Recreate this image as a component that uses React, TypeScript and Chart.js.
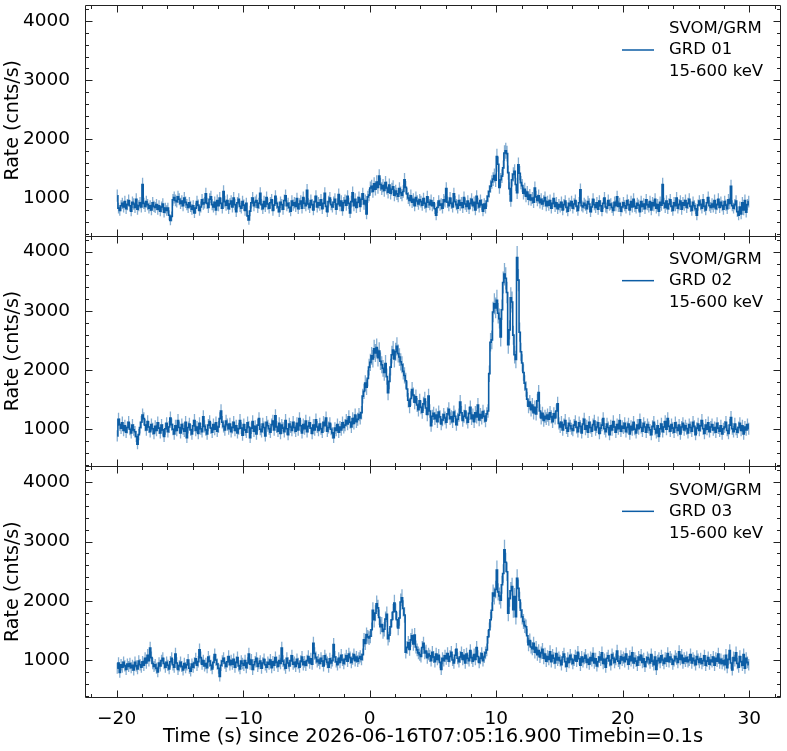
import { useEffect, useRef } from "react"
import Chart from "chart.js/auto"

// light curve settings
const binWidth = 0.1
const startTime = -20
const xTickValues = [-20, -10, 0, 10, 20, 30]
const yTickValues = [1000, 2000, 3000, 4000]
const instrumentLabel = "SVOM/GRM"
const bandLabel = "15-600 keV"
const detectorNames = ["GRD 01", "GRD 02", "GRD 03"]

// counts per 0.1 s bin, t = -20 ... 30 s (one row = 1 s)
const grd01Counts = [
  105, 84, 80, 88, 92, 86, 95, 83, 90, 97,
  88, 79, 94, 91, 85, 99, 82, 88, 93, 86,
  124, 92, 87, 95, 90, 84, 88, 81, 93, 87,
  85, 90, 82, 88, 79, 86, 91, 77, 84, 80,
  84, 72, 63, 70, 98, 102, 97, 95, 103, 99,
  92, 96, 88, 101, 94, 90, 85, 93, 87, 82,
  88, 76, 84, 95, 89, 80, 86, 98, 91, 93,
  108, 92, 85, 99, 103, 90, 86, 94, 81, 97,
  88, 101, 92, 84, 112, 95, 89, 97, 83, 91,
  96, 86, 101, 90, 78, 93, 99, 87, 84, 95,
  89, 80, 92, 71, 64, 79, 93, 101, 88, 94,
  97, 85, 92, 109, 90, 83, 95, 87, 102, 91,
  84, 93, 98, 80, 89, 104, 92, 86, 78, 94,
  90, 82, 97, 105, 88, 92, 85, 79, 96, 89,
  93, 87, 100, 83, 91, 96, 84, 102, 92, 88,
  114, 91, 85, 97, 90, 81, 95, 104, 86, 93,
  89, 98, 83, 92, 109, 87, 78, 95, 101, 90,
  86, 94, 99, 82, 91, 107, 88, 96, 80, 93,
  97, 89, 104, 92, 76, 95, 110, 88, 99, 85,
  94, 102, 87, 99, 108, 91, 97, 74, 103, 106,
  118, 121, 112, 125, 116, 128, 119, 138, 124, 117,
  122, 114, 127, 118, 111, 123, 109, 116, 120, 106,
  113, 108, 104, 117, 110, 106, 112, 132, 119, 108,
  101, 97, 105, 94, 99, 88, 102, 96, 91, 98,
  95, 89, 100, 92, 86, 103, 94, 90, 97, 88,
  93, 83, 72, 85, 96, 89, 91, 84, 98, 95,
  117, 94, 88, 101, 92, 86, 108, 95, 90, 84,
  97, 89, 93, 85, 102, 91, 87, 96, 83, 92,
  99, 88, 94, 81, 104, 92, 86, 97, 90, 79,
  91, 84, 96, 104, 112, 121, 128, 133, 139, 131,
  171, 158, 119, 132, 138, 152, 177, 181, 176, 144,
  117, 96, 132, 141, 146, 124, 110, 157, 143, 127,
  122, 109, 116, 104, 111, 99, 106, 98, 101, 94,
  118, 103, 97, 105, 93, 99, 91, 96, 102, 88,
  95, 89, 97, 84, 92, 100, 87, 93, 83, 90,
  86, 94, 81, 90, 96, 85, 79, 92, 88, 95,
  84, 91, 97, 87, 80, 93, 115, 88, 86, 92,
  89, 83, 95, 91, 78, 86, 99, 90, 85, 93,
  82, 96, 88, 79, 92, 101, 86, 84, 97, 89,
  91, 85, 80, 94, 88, 103, 87, 92, 79, 86,
  93, 88, 84, 97, 90, 81, 95, 86, 99, 87,
  84, 92, 89, 78, 95, 87, 91, 83, 98, 90,
  86, 95, 81, 93, 88, 99, 84, 90, 79, 94,
  89, 124, 92, 85, 96, 83, 91, 98, 87, 80,
  93, 88, 101, 84, 90, 96, 82, 93, 89, 97,
  85, 92, 99, 87, 80, 94, 88, 83, 72, 89,
  96, 90, 84, 98, 87, 81, 93, 102, 88, 85,
  91, 86, 97, 83, 90, 99, 85, 94, 88, 82,
  95, 89, 83, 98, 92, 121, 88, 84, 90, 96,
  78, 72, 86, 74, 93, 81, 97, 77, 90, 95,
]

const grd02Counts = [
  89, 117, 108, 102, 111, 98, 106, 95, 103, 112,
  100, 94, 107, 99, 96, 88, 75, 91, 103, 112,
  124, 118, 107, 99, 113, 104, 96, 108, 101, 93,
  105, 98, 111, 102, 94, 107, 99, 88, 101, 110,
  96, 104, 119, 108, 100, 92, 106, 98, 115, 103,
  94, 108, 101, 97, 112, 86, 103, 109, 99, 92,
  106, 115, 98, 104, 93, 110, 101, 96, 121, 105,
  99, 92, 107, 113, 102, 95, 108, 100, 111, 97,
  104, 118, 131, 112, 105, 99, 114, 108, 101, 109,
  96, 103, 112, 98, 106, 94, 101, 115, 102, 90,
  108, 99, 95, 111, 104, 86, 102, 113, 97, 105,
  92, 107, 118, 100, 96, 109, 103, 89, 112, 106,
  101, 95, 108, 114, 99, 123, 104, 97, 110, 93,
  107, 102, 96, 115, 101, 91, 109, 104, 98, 112,
  103, 97, 110, 99, 118, 106, 94, 108, 101, 114,
  96, 105, 111, 102, 93, 107, 99, 116, 104, 98,
  109, 101, 95, 112, 106, 119, 97, 103, 110, 100,
  94, 86, 102, 98, 108, 95, 104, 99, 111, 103,
  107, 115, 109, 121, 112, 104, 118, 110, 124, 113,
  117, 125, 119, 128, 156, 164, 178, 171, 186, 205,
  213, 224, 219, 236, 229, 238, 221, 232, 215, 209,
  203, 196, 211, 189, 162, 181, 205, 226, 234, 219,
  231, 240, 228, 222, 214, 209, 198, 191, 182, 168,
  149, 139, 152, 167, 158, 146, 155, 141, 133, 148,
  137, 129, 143, 151, 136, 125, 156, 131, 106, 122,
  127, 118, 124, 113, 129, 121, 109, 116, 125, 119,
  112, 126, 134, 118, 121, 113, 129, 122, 108, 117,
  124, 146, 128, 115, 122, 131, 119, 112, 127, 137,
  118, 124, 113, 128, 121, 141, 116, 125, 119, 130,
  122, 114, 126, 131, 194, 247, 251, 298, 312, 305,
  318, 296, 287, 256, 302, 348, 362, 355, 331, 243,
  268, 322, 315, 259, 226, 218, 390, 352, 264, 231,
  212, 196, 178, 168, 151, 139, 146, 133, 141, 128,
  137, 126, 148, 162, 131, 119, 127, 115, 122, 118,
  124, 117, 128, 121, 113, 126, 119, 131, 143, 110,
  104, 112, 99, 108, 115, 102, 97, 110, 106, 101,
  98, 107, 113, 103, 96, 111, 105, 94, 109, 117,
  100, 106, 95, 112, 103, 97, 108, 114, 99, 104,
  111, 93, 102, 107, 118, 101, 96, 109, 103, 91,
  106, 99, 113, 104, 95, 108, 101, 115, 97, 105,
  102, 110, 96, 103, 109, 92, 105, 99, 112, 100,
  94, 107, 101, 116, 103, 97, 110, 104, 95, 108,
  103, 99, 91, 105, 112, 100, 94, 106, 88, 101,
  109, 96, 104, 113, 100, 118, 105, 97, 108, 102,
  95, 111, 103, 98, 107, 92, 104, 110, 99, 106,
  101, 94, 108, 103, 97, 112, 105, 91, 102, 109,
  98, 106, 115, 101, 93, 107, 100, 111, 96, 104,
  108, 99, 103, 95, 110, 102, 97, 106, 92, 101,
  104, 112, 98, 93, 107, 120, 101, 96, 109, 100,
  95, 103, 110, 98, 106, 92, 104, 99, 108, 101,
]

const grd03Counts = [
  86, 95, 79, 92, 88, 96, 90, 84, 93, 89,
  94, 87, 91, 83, 96, 90, 85, 98, 92, 88,
  97, 91, 103, 95, 108, 99, 120, 104, 94, 89,
  92, 86, 80, 95, 90, 99, 103, 94, 88, 96,
  91, 85, 97, 103, 92, 88, 110, 95, 84, 90,
  96, 89, 83, 94, 87, 92, 100, 86, 81, 93,
  88, 95, 102, 91, 97, 117, 104, 93, 99, 90,
  94, 87, 105, 98, 91, 85, 96, 109, 100, 93,
  86, 72, 91, 98, 103, 95, 89, 97, 106, 92,
  99, 93, 101, 88, 96, 104, 90, 85, 98, 94,
  91, 99, 87, 95, 110, 93, 100, 84, 92, 97,
  103, 89, 94, 98, 86, 95, 101, 92, 88, 96,
  93, 100, 87, 97, 91, 104, 96, 89, 99, 94,
  120, 98, 92, 86, 103, 95, 90, 99, 107, 93,
  96, 89, 101, 94, 88, 98, 105, 92, 97, 91,
  99, 106, 95, 102, 93, 128, 111, 104, 97, 100,
  94, 103, 98, 90, 107, 101, 96, 88, 102, 95,
  99, 126, 105, 97, 92, 103, 96, 108, 100, 94,
  101, 107, 98, 110, 104, 96, 102, 109, 99, 105,
  98, 103, 106, 101, 109, 134, 128, 143, 139, 137,
  140, 151, 184, 168, 179, 195, 188, 172, 156, 160,
  148, 152, 169, 177, 136, 142, 156, 168, 181, 196,
  182, 168, 154, 171, 198, 205, 187, 176, 113, 121,
  129, 118, 134, 141, 127, 142, 122, 117, 112, 109,
  106, 121, 128, 112, 115, 104, 110, 107, 99, 113,
  105, 97, 110, 101, 108, 96, 84, 103, 99, 107,
  102, 111, 98, 106, 113, 100, 95, 108, 118, 103,
  97, 105, 112, 101, 108, 95, 110, 103, 99, 116,
  104, 98, 109, 101, 121, 106, 96, 103, 111, 99,
  105, 112, 117, 139, 151, 168, 184, 213, 208, 219,
  252, 215, 208, 201, 227, 246, 286, 265, 249, 179,
  204, 217, 224, 185, 207, 173, 238, 221, 201, 184,
  173, 165, 158, 156, 141, 126, 133, 122, 119, 128,
  113, 121, 109, 116, 105, 112, 118, 103, 110, 98,
  106, 101, 114, 97, 108, 103, 95, 111, 100, 104,
  99, 92, 105, 110, 97, 89, 103, 96, 108, 101,
  94, 100, 107, 98, 113, 102, 91, 105, 97, 103,
  108, 96, 101, 93, 104, 99, 111, 95, 102, 90,
  97, 105, 100, 112, 94, 101, 88, 103, 107, 99,
  92, 109, 103, 96, 101, 115, 98, 94, 106, 100,
  104, 97, 110, 101, 93, 106, 99, 112, 95, 103,
  98, 91, 105, 100, 108, 96, 102, 89, 97, 104,
  101, 95, 109, 98, 92, 105, 84, 99, 103, 96,
  107, 100, 94, 103, 98, 111, 97, 105, 101, 93,
  99, 106, 102, 96, 114, 101, 108, 95, 103, 98,
  104, 97, 100, 109, 95, 103, 99, 92, 106, 101,
  96, 102, 94, 99, 107, 91, 98, 104, 93, 100,
  97, 105, 91, 103, 98, 110, 95, 101, 94, 99,
  92, 108, 87, 101, 116, 95, 83, 104, 99, 112,
  94, 88, 106, 97, 91, 109, 86, 103, 96, 92,
]

const BLUE = "#0C5DA5"
const ERR_COLOR = "rgba(12, 93, 165, 0.5)"
const FONT = "'DejaVu Sans', sans-serif"
const X_MIN = -22.5
const X_MAX = 32.5
const Y_MIN = 375
const Y_MAX = 4270

const panels = [
  { id: "y1", name: detectorNames[0], counts: grd01Counts },
  { id: "y2", name: detectorNames[1], counts: grd02Counts },
  { id: "y3", name: detectorNames[2], counts: grd03Counts },
]

const binTime = (i: number) => startTime + (i + 0.5) * binWidth

// no extra label padding around the stacked panels
const noPadding = (s: any) => {
  s.paddingTop = 0
  s.paddingBottom = 0
  s.paddingLeft = 0
  s.paddingRight = 0
}

// poisson error bars, drawn under the step line
const errorBars = {
  id: "errorBars",
  beforeDatasetsDraw(chart: any) {
    const { ctx, chartArea } = chart
    const xs = chart.scales.x
    ctx.save()
    ctx.strokeStyle = ERR_COLOR
    ctx.lineWidth = 1.3
    for (const p of panels) {
      const ys = chart.scales[p.id]
      ctx.save()
      ctx.beginPath()
      ctx.rect(chartArea.left, ys.top, chartArea.right - chartArea.left, ys.bottom - ys.top)
      ctx.clip()
      ctx.beginPath()
      p.counts.forEach((c, i) => {
        const rate = c / binWidth
        const err = Math.sqrt(c) / binWidth
        const px = xs.getPixelForValue(binTime(i))
        ctx.moveTo(px, ys.getPixelForValue(rate - err))
        ctx.lineTo(px, ys.getPixelForValue(rate + err))
      })
      ctx.stroke()
      ctx.restore()
    }
    ctx.restore()
  },
}

// frame, inward ticks on all sides, legend text
const frameTicks = {
  id: "frameTicks",
  afterDatasetsDraw(chart: any) {
    const { ctx, chartArea } = chart
    const xs = chart.scales.x
    const left = Math.round(chartArea.left) + 0.5
    const right = Math.round(chartArea.right) - 0.5
    ctx.save()
    for (const p of panels) {
      const ys = chart.scales[p.id]
      const top = Math.round(ys.top) + 0.5
      const bottom = Math.round(ys.bottom) + 0.5
      ctx.strokeStyle = "#222"
      ctx.lineWidth = 1
      ctx.beginPath()
      ctx.rect(left, top, right - left, bottom - top)
      // x ticks
      for (let v = -22; v <= 32; v += 2) {
        const len = xTickValues.includes(v) ? 7 : 3.5
        const px = Math.round(xs.getPixelForValue(v)) + 0.5
        ctx.moveTo(px, bottom)
        ctx.lineTo(px, bottom - len)
        ctx.moveTo(px, top)
        ctx.lineTo(px, top + len)
      }
      // y ticks
      for (let v = 400; v <= 4200; v += 200) {
        const len = yTickValues.includes(v) ? 7 : 3.5
        const py = Math.round(ys.getPixelForValue(v)) + 0.5
        ctx.moveTo(left, py)
        ctx.lineTo(left + len, py)
        ctx.moveTo(right, py)
        ctx.lineTo(right - len, py)
      }
      ctx.stroke()

      // legend
      const ly = ys.top + 45
      ctx.strokeStyle = BLUE
      ctx.lineWidth = 1.5
      ctx.beginPath()
      ctx.moveTo(chartArea.right - 159, ly)
      ctx.lineTo(chartArea.right - 127, ly)
      ctx.stroke()
      ctx.fillStyle = "#000"
      ctx.font = `16.5px ${FONT}`
      ctx.textAlign = "left"
      ctx.textBaseline = "middle"
      const tx = chartArea.right - 112
      ctx.fillText(instrumentLabel, tx, ys.top + 24)
      ctx.fillText(p.name, tx, ly)
      ctx.fillText(bandLabel, tx, ys.top + 67)
    }
    ctx.restore()
  },
}

const yAxis = (weight: number) => ({
  type: "linear",
  position: "left",
  stack: "panels",
  stackWeight: 1,
  weight,
  min: Y_MIN,
  max: Y_MAX,
  afterBuildTicks: (s: any) => {
    s.ticks = yTickValues.map((value) => ({ value }))
  },
  afterFit: (s: any) => {
    s.width = 85
    noPadding(s)
  },
  grid: { display: false },
  border: { display: false },
  ticks: {
    color: "#000",
    font: { size: 18.5, family: FONT },
    padding: 7,
    callback: (v: number) => String(v),
  },
  title: {
    display: true,
    text: "Rate (cnts/s)",
    color: "#000",
    font: { size: 19, family: FONT },
    padding: { top: 2, bottom: 0 },
  },
})

export default function App() {
  const chartRef = useRef<HTMLCanvasElement>(null)

  useEffect(() => {
    if (!chartRef.current) return

    const chart = new Chart(chartRef.current, {
      type: "line",
      data: {
        datasets: panels.map((p) => ({
          label: p.name,
          data: p.counts.map((c, i) => ({ x: binTime(i), y: c / binWidth })),
          xAxisID: "x",
          yAxisID: p.id,
          borderColor: BLUE,
          borderWidth: 1.6,
          pointRadius: 0,
          stepped: "middle",
          fill: false,
        })),
      } as any,
      options: {
        animation: false,
        responsive: false,
        events: [],
        layout: { padding: { top: 5, right: 6, left: 0, bottom: 0 } },
        plugins: {
          legend: { display: false },
          tooltip: { enabled: false },
        },
        scales: {
          x: {
            type: "linear",
            position: "bottom",
            min: X_MIN,
            max: X_MAX,
            afterBuildTicks: (s: any) => {
              s.ticks = xTickValues.map((value) => ({ value }))
            },
            afterFit: (s: any) => {
              s.height = 54
              noPadding(s)
            },
            grid: { display: false },
            border: { display: false },
            ticks: {
              color: "#000",
              font: { size: 18.5, family: FONT },
              padding: 3,
              maxRotation: 0,
              autoSkip: false,
              callback: (v: number) => (v < 0 ? "\u2212" + Math.abs(v) : String(v)),
            },
            title: {
              display: true,
              text: "Time (s) since 2026-06-16T07:05:16.900 Timebin=0.1s",
              color: "#000",
              font: { size: 19.5, family: FONT },
              padding: { top: 0, bottom: 2 },
            },
          },
          y1: yAxis(3),
          y2: yAxis(2),
          y3: yAxis(1),
        } as any,
      },
      plugins: [errorBars, frameTicks],
    })

    return () => {
      chart.destroy()
    }
  }, [])

  return (
    <div style={{ position: "absolute", left: 0, top: 0, width: 787, height: 751, background: "#fff" }}>
      <canvas ref={chartRef} width={787} height={751} />
    </div>
  )
}
